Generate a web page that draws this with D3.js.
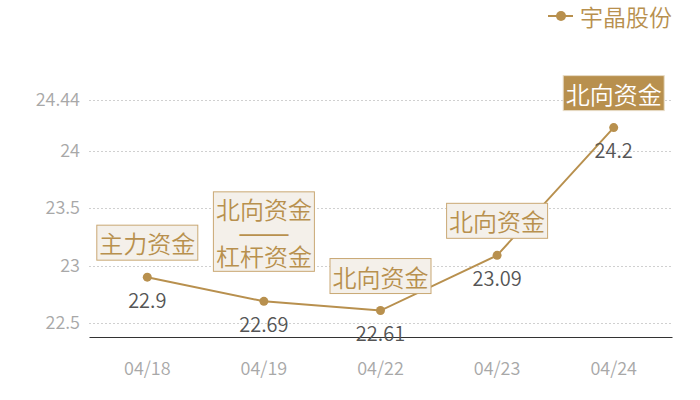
<!DOCTYPE html>
<html>
<head>
<meta charset="utf-8">
<script src="https://cdn.jsdelivr.net/npm/d3@7"></script>
<style>
  body { margin: 0; background: #fff; }
  text { font-family: "Noto Sans CJK SC", "Noto Sans", sans-serif; }
</style>
</head>
<body>
<div id="chart"></div>
<script>
// Data
var dates = ["04/18", "04/19", "04/22", "04/23", "04/24"];
var prices = [22.9, 22.69, 22.61, 23.09, 24.2];
var notes = [["主力资金"], ["北向资金", "——", "杠杆资金"], ["北向资金"], ["北向资金"], ["北向资金"]];
var highlighted = [false, false, false, false, true];
var yTicks = [22.5, 23, 23.5, 24, 24.44];
var yDomain = [22.38, 24.44];
var seriesName = "宇晶股份";

// Placement
var width = 700,
  height = 400,
  mLeft = 89,
  mRight = 28,
  mTop = 100,
  mBottom = 63;

var gold = "#b8904e";
var fontFam = "'Noto Sans CJK SC', 'Noto Sans', sans-serif";

var svg = d3.select("#chart")
  .append("svg")
  .attr("width", width)
  .attr("height", height);

var x = d3.scaleBand()
  .domain(dates)
  .range([mLeft, width - mRight]);

var y = d3.scaleLinear()
  .domain(yDomain)
  .range([height - mBottom, mTop]);

// gridlines
svg.append("g").selectAll("line")
  .data(yTicks)
  .enter().append("line")
  .attr("x1", mLeft)
  .attr("x2", width - mRight)
  .attr("y1", function(d) { return Math.round(y(d)) + 0.5; })
  .attr("y2", function(d) { return Math.round(y(d)) + 0.5; })
  .attr("stroke", "#d0d0d0")
  .attr("stroke-dasharray", "2,2");

// y axis labels
var yAxis = svg.append("g")
  .attr("transform", "translate(" + mLeft + ",0)")
  .call(d3.axisLeft(y).tickValues(yTicks).tickSize(0).tickPadding(9).tickFormat(function(d) { return d; }));
yAxis.select(".domain").remove();
yAxis.selectAll("text")
  .attr("fill", "#a8a8a8")
  .style("font-size", "18px")
  .style("font-weight", 350)
  .style("font-family", fontFam);

// x axis
var xAxis = svg.append("g")
  .attr("transform", "translate(0," + (height - mBottom) + ")")
  .call(d3.axisBottom(x).tickSize(0).tickPadding(25));
xAxis.select(".domain").attr("stroke", "#333").attr("stroke-width", 1.2);
xAxis.selectAll("text")
  .attr("fill", "#a8a8a8")
  .style("font-size", "18px")
  .style("font-weight", 350)
  .style("font-family", fontFam);

function px(i) { return x(dates[i]) + x.bandwidth() / 2; }

// line
var line = d3.line()
  .x(function(d, i) { return px(i); })
  .y(function(d) { return y(d); });

svg.append("path")
  .datum(prices)
  .attr("d", line)
  .attr("fill", "none")
  .attr("stroke", gold)
  .attr("stroke-width", 2);

svg.append("g").selectAll("circle")
  .data(prices)
  .enter().append("circle")
  .attr("cx", function(d, i) { return px(i); })
  .attr("cy", function(d) { return y(d); })
  .attr("r", 4.5)
  .attr("fill", gold);

// value labels
svg.append("g").selectAll("text")
  .data(prices)
  .enter().append("text")
  .attr("x", function(d, i) { return px(i); })
  .attr("y", function(d) { return y(d) + 22; })
  .attr("text-anchor", "middle")
  .attr("dominant-baseline", "central")
  .attr("fill", "#555")
  .style("font-size", "20px")
  .style("font-weight", 350)
  .text(function(d) { return d; });

// annotation boxes
var lineH = 23.5;
notes.forEach(function(lines, i) {
  var hl = highlighted[i];
  var boxH = lines.length * lineH + (lines.length > 1 ? 9 : 11.5);
  var gap = lines.length > 1 ? 30 : 17;
  var bottom = y(prices[i]) - gap;
  var g = svg.append("g");
  var rect = g.append("rect");
  var t = g.append("text")
    .attr("text-anchor", "middle")
    .attr("fill", hl ? "#fff" : gold)
    .style("font-size", "24px")
    .style("font-weight", 350);
  lines.forEach(function(s, j) {
    var ts = t.append("tspan")
      .attr("x", px(i))
      .attr("y", bottom - boxH + (boxH - lines.length * lineH) / 2 + lineH * (j + 0.5))
      .attr("dominant-baseline", "central")
      .text(s);
    // dash separator stretched to a continuous rule
    if (s === "——") ts.attr("textLength", 52).attr("lengthAdjust", "spacingAndGlyphs").attr("x", px(i) - 26).attr("text-anchor", "start").style("font-weight", 500);
  });
  var w = 101;
  rect.attr("x", px(i) - w / 2)
    .attr("y", bottom - boxH)
    .attr("width", w)
    .attr("height", boxH)
    .attr("fill", hl ? gold : "#f4f0ea")
    .attr("stroke", hl ? "#e8dcc6" : "#c9a874")
    .attr("stroke-width", 1);
});

// legend
var legend = svg.append("g").attr("transform", "translate(548,16)");
legend.append("line")
  .attr("x1", 0).attr("x2", 25)
  .attr("stroke", gold).attr("stroke-width", 2);
legend.append("circle")
  .attr("cx", 13).attr("r", 5)
  .attr("fill", gold);
legend.append("text")
  .attr("x", 32)
  .attr("dominant-baseline", "central")
  .attr("fill", gold)
  .style("font-size", "23px")
  .style("font-weight", 350)
  .text(seriesName);
</script>
</body>
</html>
